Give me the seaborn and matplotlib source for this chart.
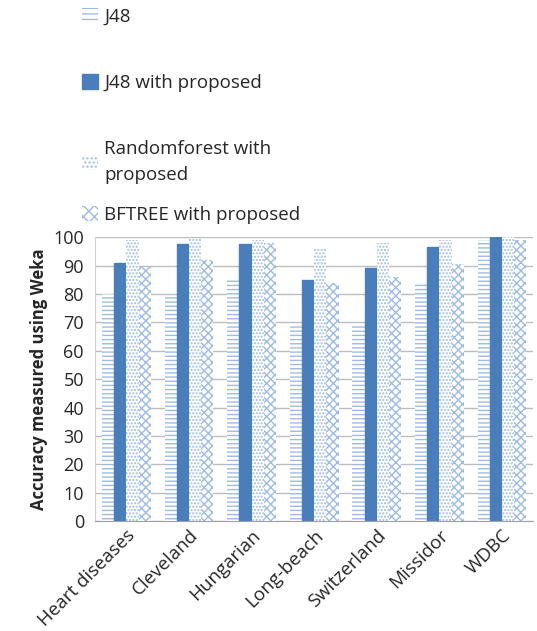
import pandas as pd
import numpy as np
import matplotlib.pyplot as plt
import seaborn as sns
from matplotlib.patches import Patch

# Datos
datasets = ['Heart diseases', 'Cleveland', 'Hungarian', 'Long-beach',
            'Switzerland', 'Missidor', 'WDBC']
series = ['J48', 'J48 with proposed', 'Randomforest with\nproposed',
          'BFTREE with proposed']
j48 = [80, 79, 85.5, 69, 69, 84, 99]
j48_prop = [91, 97.5, 97.5, 85, 89, 96.5, 100]
rf_prop = [99, 99.5, 99, 96, 98, 99, 100]
bf_prop = [89.5, 92, 98, 84, 86, 90.5, 99]

df = pd.DataFrame({
    'Dataset': datasets * 4,
    'Serie': np.repeat(series, len(datasets)),
    'Valor': j48 + j48_prop + rf_prop + bf_prop,
})

sns.set_style('white')
plt.rcParams['font.family'] = ['Open Sans', 'DejaVu Sans']
plt.rcParams['hatch.linewidth'] = 1.0

fig = plt.figure(figsize=(5.37, 6.31), dpi=100)
ax = fig.add_axes([0.177, 0.174, 0.816, 0.45])

azul = '#4a7ebb'
claro = '#9dbbe6'
sns.barplot(data=df, x='Dataset', y='Valor', hue='Serie', hue_order=series,
            order=datasets, width=0.78, gap=0, ax=ax, legend=False,
            palette=[azul] * 4, saturation=1)

hatches = ['----', None, '.....', 'xxxx']
for cont, h in zip(ax.containers, hatches):
    for bar in cont:
        if h is None:
            bar.set_facecolor(azul)
            bar.set_edgecolor(azul)
        else:
            bar.set_facecolor('white')
            bar.set_edgecolor(claro)
            bar.set_hatch(h)
            bar.set_linewidth(0)

ax.set_ylim(0, 100)
ax.set_yticks(range(0, 101, 10))
ax.set_xlim(-0.5, len(datasets) - 0.5)
ax.yaxis.grid(True, color='#bdbdbd', linewidth=1)
ax.set_axisbelow(True)
for s in ['top', 'right']:
    ax.spines[s].set_visible(False)
ax.spines['left'].set_color('#d0d0d0')
ax.spines['bottom'].set_color('#a0a0a0')
ax.set_xticks(np.arange(-0.5, len(datasets), 1), minor=True)
ax.tick_params(axis='x', which='minor', length=5, color='#a0a0a0', direction='out')
ax.tick_params(axis='x', which='major', length=0)
ax.tick_params(axis='y', length=0, labelsize=13, pad=8)
ax.set_xticks(range(len(datasets)))
ax.set_xticklabels(datasets, rotation=45, ha='right', rotation_mode='anchor',
                   fontsize=13.5)
ax.set_xlabel('')
ax.set_ylabel('Accuracy measured using Weka', fontsize=12, fontweight='bold')

# Leyenda: cada entrada en su sitio
handles = [Patch(facecolor='white', edgecolor=claro, hatch='---', linewidth=0),
           Patch(facecolor=azul, edgecolor=azul),
           Patch(facecolor='white', edgecolor=claro, hatch='....', linewidth=0),
           Patch(facecolor='white', edgecolor=claro, hatch='xxx', linewidth=0)]
pos_y = [1 - 17 / 631, 1 - 83 / 631, 1 - 162 / 631, 1 - 215 / 631]
for hnd, lab, py in zip(handles, series, pos_y):
    leg = fig.legend([hnd], [lab], loc='center left', bbox_to_anchor=(0.152, py),
                     frameon=False, fontsize=13.5, handlelength=0.9,
                     handleheight=0.9, handletextpad=0.3, borderaxespad=0,
                     borderpad=0)
    leg.get_texts()[0].set_linespacing(1.5)

plt.savefig('out.png', dpi=100)
